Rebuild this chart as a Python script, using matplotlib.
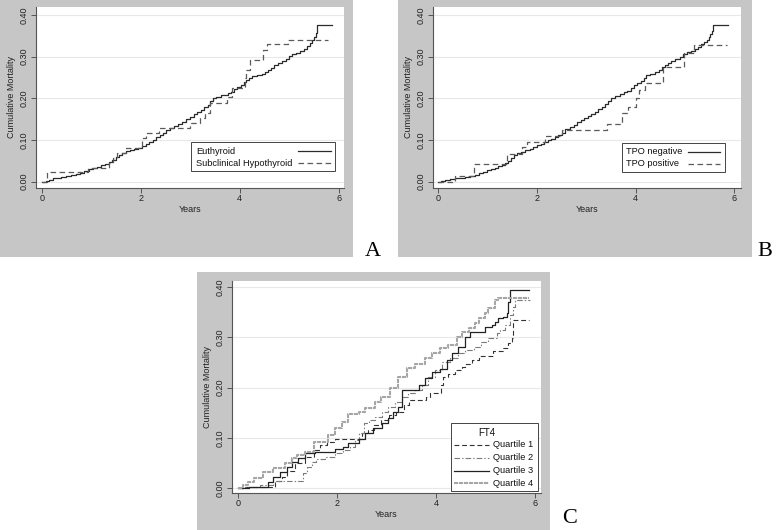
import matplotlib
matplotlib.use("Agg")
import matplotlib.pyplot as plt
from matplotlib.patches import Rectangle
from matplotlib.lines import Line2D

plt.rcParams['font.family'] = ['Liberation Sans', 'DejaVu Sans']
plt.rcParams['lines.scale_dashes'] = False

# ---------------- data ----------------
# Panel A
eu_t = [0, 0.08, 0.15, 0.22, 0.30, 0.40, 0.50, 0.60, 0.70, 0.78,
        0.86, 0.95, 1.03, 1.12, 1.20, 1.28, 1.36, 1.43, 1.50, 1.56,
        1.62, 1.70, 1.78, 1.86, 1.94, 2.02, 2.10, 2.17, 2.24, 2.31,
        2.38, 2.45, 2.52, 2.60, 2.68, 2.76, 2.84, 2.92, 3.00, 3.07,
        3.14, 3.21, 3.28, 3.35, 3.41, 3.47, 3.53, 3.62, 3.70, 3.76,
        3.82, 3.88, 3.95, 4.02, 4.08, 4.13, 4.18, 4.25, 4.35, 4.45,
        4.52, 4.58, 4.64, 4.70, 4.78, 4.86, 4.94, 5.00, 5.06, 5.14,
        5.22, 5.30, 5.36, 5.42, 5.47, 5.51, 5.54, 5.57, 5.86]
eu_v = [0, 0.002, 0.005, 0.008, 0.010, 0.011, 0.013, 0.016, 0.019, 0.022,
        0.026, 0.030, 0.033, 0.036, 0.039, 0.043, 0.047, 0.053, 0.059, 0.065,
        0.070, 0.073, 0.076, 0.079, 0.082, 0.086, 0.090, 0.096, 0.101, 0.107,
        0.113, 0.118, 0.124, 0.129, 0.133, 0.138, 0.144, 0.151, 0.156, 0.162,
        0.167, 0.172, 0.178, 0.185, 0.193, 0.200, 0.204, 0.207, 0.209, 0.212,
        0.216, 0.222, 0.228, 0.233, 0.238, 0.244, 0.249, 0.253, 0.256, 0.258,
        0.262, 0.267, 0.273, 0.279, 0.285, 0.290, 0.295, 0.301, 0.306, 0.309,
        0.313, 0.318, 0.325, 0.333, 0.340, 0.348, 0.357, 0.375, 0.375]
sh_t = [0, 0.10, 0.94, 1.35, 1.45, 1.52, 1.70, 2.02, 2.10, 2.36,
        3.00, 3.20, 3.30, 3.40, 3.74, 3.84, 4.10, 4.13, 4.21, 4.48,
        4.55, 4.98, 5.79]
sh_v = [0, 0.024, 0.034, 0.045, 0.058, 0.069, 0.080, 0.104, 0.116, 0.128,
        0.140, 0.152, 0.164, 0.188, 0.203, 0.224, 0.248, 0.268, 0.293, 0.317,
        0.330, 0.341, 0.341]

# Panel B
tn_t = [0, 0.06, 0.14, 0.24, 0.34, 0.44, 0.54, 0.64, 0.74, 0.82,
        0.90, 0.98, 1.06, 1.14, 1.22, 1.30, 1.36, 1.42, 1.47, 1.53,
        1.60, 1.68, 1.76, 1.85, 1.93, 2.01, 2.08, 2.15, 2.22, 2.29,
        2.36, 2.43, 2.50, 2.56, 2.68, 2.75, 2.82, 2.89, 2.96, 3.03,
        3.10, 3.17, 3.24, 3.31, 3.38, 3.44, 3.50, 3.58, 3.68, 3.76,
        3.83, 3.90, 3.96, 4.03, 4.10, 4.16, 4.22, 4.30, 4.40, 4.47,
        4.53, 4.59, 4.65, 4.71, 4.80, 4.90, 4.97, 5.04, 5.12, 5.20,
        5.26, 5.32, 5.38, 5.44, 5.48, 5.51, 5.54, 5.57, 5.88]
tn_v = [0, 0.002, 0.004, 0.006, 0.008, 0.010, 0.012, 0.014, 0.016, 0.021,
        0.024, 0.028, 0.031, 0.034, 0.037, 0.040, 0.044, 0.050, 0.057, 0.064,
        0.069, 0.072, 0.075, 0.079, 0.083, 0.087, 0.091, 0.095, 0.099, 0.103,
        0.107, 0.112, 0.118, 0.126, 0.131, 0.137, 0.143, 0.148, 0.153, 0.158,
        0.163, 0.168, 0.174, 0.180, 0.186, 0.193, 0.201, 0.206, 0.210, 0.214,
        0.218, 0.225, 0.232, 0.237, 0.242, 0.249, 0.255, 0.259, 0.262, 0.268,
        0.274, 0.279, 0.285, 0.290, 0.295, 0.300, 0.306, 0.311, 0.314, 0.318,
        0.323, 0.330, 0.335, 0.339, 0.346, 0.354, 0.362, 0.375, 0.375]
tp_t = [0, 0.34, 0.73, 1.40, 1.69, 1.79, 2.16, 2.50, 3.41, 3.72,
        3.84, 4.00, 4.07, 4.20, 4.56, 4.99, 5.19, 5.85]
tp_v = [0, 0.014, 0.042, 0.066, 0.084, 0.096, 0.110, 0.124, 0.138, 0.164,
        0.180, 0.200, 0.220, 0.236, 0.276, 0.308, 0.328, 0.328]

# Panel C (FT4 quartiles)
q1_t = [0, 0.15, 0.75, 0.89, 1.00, 1.16, 1.36, 1.53, 1.66, 1.80,
        1.96, 2.50, 2.62, 2.75, 2.90, 3.05, 3.20, 3.35, 3.45, 3.80,
        3.88, 4.10, 4.15, 4.25, 4.39, 4.52, 4.59, 4.72, 4.86, 5.16,
        5.36, 5.46, 5.53, 5.56, 5.87]
q1_v = [0, 0.003, 0.015, 0.023, 0.035, 0.050, 0.063, 0.076, 0.086, 0.093,
        0.099, 0.109, 0.115, 0.125, 0.135, 0.145, 0.152, 0.165, 0.175, 0.182,
        0.189, 0.205, 0.222, 0.228, 0.235, 0.242, 0.248, 0.255, 0.262, 0.272,
        0.278, 0.288, 0.298, 0.334, 0.334]
q2_t = [0, 0.11, 0.45, 0.72, 1.32, 1.40, 1.50, 1.58, 1.76, 1.96,
        2.13, 2.27, 2.37, 2.44, 2.54, 2.65, 2.77, 2.91, 3.04, 3.18,
        3.31, 3.44, 3.58, 3.71, 3.85, 3.98, 4.12, 4.28, 4.45, 4.59,
        4.76, 4.92, 5.06, 5.23, 5.29, 5.40, 5.50, 5.56, 5.60, 5.90]
q2_v = [0, 0.003, 0.007, 0.015, 0.030, 0.043, 0.052, 0.058, 0.063, 0.070,
        0.076, 0.083, 0.096, 0.109, 0.129, 0.135, 0.142, 0.152, 0.162, 0.172,
        0.182, 0.189, 0.195, 0.205, 0.222, 0.235, 0.252, 0.258, 0.268, 0.275,
        0.281, 0.291, 0.298, 0.308, 0.315, 0.325, 0.344, 0.361, 0.375, 0.375]
q3_t = [0, 0.22, 0.62, 0.72, 0.85, 0.99, 1.09, 1.22, 1.36, 1.56,
        1.96, 2.13, 2.23, 2.44, 2.57, 2.74, 2.91, 3.04, 3.14, 3.24,
        3.31, 3.65, 3.78, 3.92, 4.08, 4.22, 4.32, 4.45, 4.59, 4.69,
        4.99, 5.13, 5.19, 5.26, 5.36, 5.43, 5.46, 5.50, 5.87]
q3_v = [0, 0.003, 0.013, 0.023, 0.033, 0.043, 0.053, 0.060, 0.070, 0.073,
        0.079, 0.083, 0.091, 0.099, 0.109, 0.119, 0.129, 0.139, 0.152, 0.162,
        0.195, 0.205, 0.219, 0.232, 0.238, 0.255, 0.268, 0.281, 0.301, 0.311,
        0.321, 0.324, 0.331, 0.338, 0.341, 0.348, 0.371, 0.394, 0.394]
q4_t = [0, 0.10, 0.215, 0.32, 0.52, 0.72, 0.96, 1.09, 1.19, 1.36,
        1.53, 1.83, 1.96, 2.10, 2.23, 2.44, 2.57, 2.77, 2.90, 3.07,
        3.24, 3.41, 3.58, 3.78, 3.92, 4.08, 4.25, 4.42, 4.52, 4.66,
        4.79, 4.86, 4.99, 5.06, 5.19, 5.26, 5.88]
q4_v = [0, 0.007, 0.013, 0.020, 0.033, 0.040, 0.050, 0.060, 0.066, 0.073,
        0.093, 0.106, 0.119, 0.132, 0.148, 0.152, 0.159, 0.172, 0.182, 0.199,
        0.222, 0.240, 0.248, 0.258, 0.268, 0.278, 0.285, 0.301, 0.311, 0.318,
        0.328, 0.338, 0.348, 0.358, 0.374, 0.378, 0.378]

x_ticks = [0, 2, 4, 6]
y_ticks = [0.0, 0.1, 0.2, 0.3, 0.4]
x_label = "Years"
y_label = "Cumulative Mortality"

# ---------------- layout helpers ----------------
W, H = 777, 530
GRAY = '#c6c6c6'
fig = plt.figure(figsize=(W / 100, H / 100), dpi=100)
fig.patch.set_facecolor('white')


def fx(x):
    return x / W


def fy(y):
    return 1 - y / H


def gray_panel(x0, y0, x1, y1):
    fig.add_artist(Rectangle((fx(x0), fy(y1)), fx(x1 - x0), (y1 - y0) / H,
                             transform=fig.transFigure, facecolor=GRAY,
                             edgecolor='none', zorder=0))


def make_axes(l, t, r, b, xlim, ylim):
    ax = fig.add_axes([fx(l), fy(b), fx(r - l), (b - t) / H])
    ax.set_facecolor('white')
    ax.set_xlim(*xlim)
    ax.set_ylim(*ylim)
    for s in ['top', 'right']:
        ax.spines[s].set_visible(False)
    for s in ['left', 'bottom']:
        ax.spines[s].set_color('#555555')
        ax.spines[s].set_linewidth(0.8)
    ax.set_xticks(x_ticks)
    ax.set_yticks(y_ticks)
    ax.set_yticklabels([f"{v:.2f}" for v in y_ticks], rotation=90, va='center')
    ax.tick_params(axis='both', direction='out', length=3.5, width=0.7,
                   color='#555555', labelsize=6.5, labelcolor='#222222')
    ax.tick_params(axis='y', pad=1.5)
    ax.tick_params(axis='x', pad=1.0)
    ax.grid(axis='y', color='#e8e8e8', linewidth=0.8)
    ax.set_axisbelow(True)
    ax.set_xlabel(x_label, fontsize=6.5, labelpad=1.5, color='#222222')
    ax.set_ylabel(y_label, fontsize=6.5, labelpad=3, color='#222222')
    return ax


def manual_legend(box, rows, title=None):
    x0, y0, x1, y1 = box
    fig.add_artist(Rectangle((fx(x0), fy(y1)), fx(x1 - x0), (y1 - y0) / H,
                             transform=fig.transFigure, facecolor='white',
                             edgecolor='#444444', linewidth=0.7, zorder=5))
    if title is not None:
        fig.text(fx(title[1]), fy(title[2]), title[0], fontsize=7,
                 ha='center', va='center', zorder=6, color='#111111')
    for (label, y, tx, lx0, lx1, style) in rows:
        fig.add_artist(Line2D([fx(lx0), fx(lx1)], [fy(y), fy(y)],
                              transform=fig.transFigure, zorder=6, **style))
        fig.text(fx(tx), fy(y), label, fontsize=6.7, ha='left',
                 va='center', zorder=6, color='#111111')


solid = dict(color='#2b2b2b', linewidth=0.9)
dashed = dict(color='#5a5a5a', linewidth=0.9, linestyle=(0, (4, 2.5)))
q1_style = dict(color='#333333', linewidth=0.8, linestyle=(0, (3.5, 2)))
q2_style = dict(color='#7a7a7a', linewidth=0.8, linestyle=(0, (4, 1.5, 1, 1.5)))
q3_style = dict(color='#222222', linewidth=0.9)
q4_style = dict(color='#a6a6a6', linewidth=1.5, linestyle=(0, (3, 0.6)))

# ---------------- Panel A ----------------
gray_panel(0, 0, 353, 257)
axA = make_axes(36, 7, 344, 188, (-0.115, 6.107), (-0.0151, 0.419))
axA.step(eu_t, eu_v, where='post', **solid)
axA.step(sh_t, sh_v, where='post', **dashed)
manual_legend((191, 142, 335, 171), [
    ("Euthyroid", 151, 196, 298, 331, solid),
    ("Subclinical Hypothyroid", 163, 196, 298, 331, dashed),
])
fig.text(fx(365), fy(256.5), "A", family='Liberation Serif', fontsize=16,
         ha='left', va='baseline')

# ---------------- Panel B ----------------
gray_panel(398, 0, 752, 257)
axB = make_axes(433, 7, 741, 188, (-0.107, 6.136), (-0.0151, 0.419))
axB.step(tn_t, tn_v, where='post', **solid)
axB.step(tp_t, tp_v, where='post', **dashed)
manual_legend((622, 143, 725, 172), [
    ("TPO negative", 152, 626, 688, 720, solid),
    ("TPO positive", 164, 626, 688, 720, dashed),
])
fig.text(fx(757), fy(256.5), "B", family='Liberation Serif', fontsize=16,
         ha='left', va='baseline')

# ---------------- Panel C ----------------
gray_panel(197, 272, 550, 530)
axC = make_axes(232, 281, 541, 493, (-0.115, 6.121), (-0.0093, 0.412))
axC.step(q1_t, q1_v, where='post', **q1_style)
axC.step(q2_t, q2_v, where='post', **q2_style)
axC.step(q3_t, q3_v, where='post', **q3_style)
axC.step(q4_t, q4_v, where='post', **q4_style)
manual_legend((451, 423, 538, 491), [
    ("Quartile 1", 444.5, 493, 454, 489, q1_style),
    ("Quartile 2", 457.5, 493, 454, 489, q2_style),
    ("Quartile 3", 470.5, 493, 454, 489, q3_style),
    ("Quartile 4", 483, 493, 454, 489, q4_style),
], title=("FT4", 487, 432.5))
fig.text(fx(562), fy(523), "C", family='Liberation Serif', fontsize=16,
         ha='left', va='baseline')

fig.savefig("out.png", dpi=100, facecolor='white')
